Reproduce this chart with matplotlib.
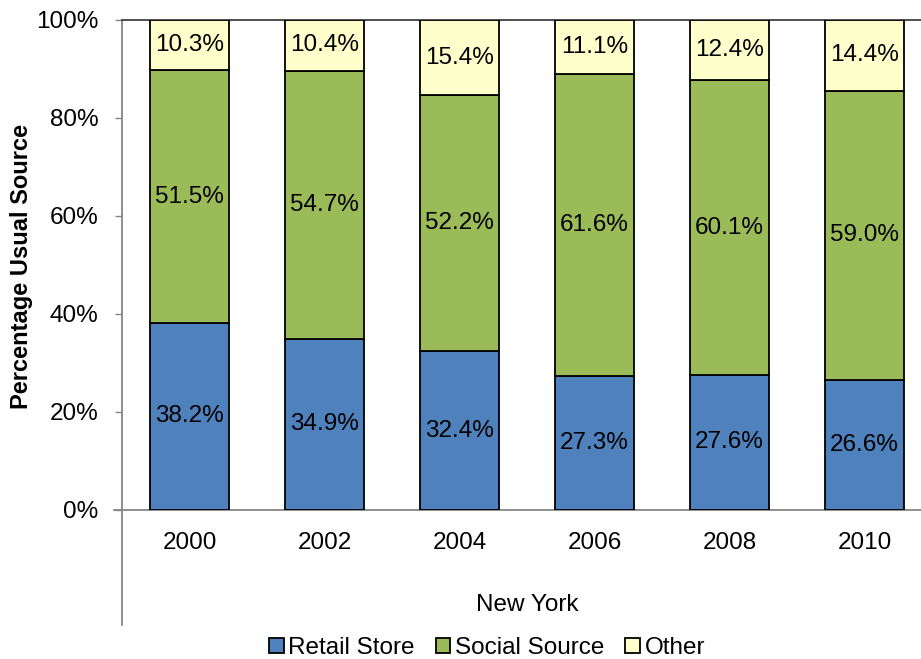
import matplotlib
matplotlib.use("Agg")
import matplotlib.pyplot as plt
from matplotlib.lines import Line2D
import numpy as np

plt.rcParams['font.family'] = ['Liberation Sans', 'DejaVu Sans']

years = ['2000', '2002', '2004', '2006', '2008', '2010']
retail = [38.2, 34.9, 32.4, 27.3, 27.6, 26.6]
social = [51.5, 54.7, 52.2, 61.6, 60.1, 59.0]
other = [10.3, 10.4, 15.4, 11.1, 12.4, 14.4]
series_names = ['Retail Store', 'Social Source', 'Other']
colors = ['#4F81BD', '#9BBB59', '#FFFFCC']
group_label = 'New York'
ylabel = 'Percentage Usual Source'

FS = 17.5
W, H = 921, 659
fig = plt.figure(figsize=(W / 100, H / 100), dpi=100)
ax_left, ax_right, ax_top, ax_bot = 122, 932, 20, 510
ax = fig.add_axes([ax_left / W, 1 - ax_bot / H, (ax_right - ax_left) / W, (ax_bot - ax_top) / H])

x = np.arange(len(years))
bw = 0.59
bottom = np.zeros(len(years))
for vals, name, c in zip([retail, social, other], series_names, colors):
    vals = np.array(vals)
    ax.bar(x, vals, bw, bottom=bottom, color=c, edgecolor='black', linewidth=1.3, label=name, zorder=3)
    for xi, b, v in zip(x, bottom, vals):
        ax.text(xi, b + v / 2, f'{v:.1f}%', ha='center', va='center', fontsize=FS, color='black', zorder=4)
    bottom = bottom + vals

ax.set_xlim(-0.5, len(years) - 0.5)
ax.set_ylim(0, 100)
ax.set_yticks([0, 20, 40, 60, 80, 100])
ax.set_yticklabels(['0%', '20%', '40%', '60%', '80%', '100%'])
ax.set_xticks(x)
ax.set_xticklabels(years)
ax.tick_params(axis='y', length=5, width=1, color='#868686', pad=12, labelsize=FS)
ax.tick_params(axis='x', length=0, pad=16, labelsize=FS)

ax.spines['right'].set_visible(False)
ax.spines['top'].set_color('#404040')
ax.spines['top'].set_linewidth(1.3)
for s in ['left', 'bottom']:
    ax.spines[s].set_color('#868686')
    ax.spines[s].set_linewidth(1.3)

# extended category axis lines
fig.add_artist(Line2D([ax_left / W, ax_left / W], [1 - ax_bot / H, 1 - 625 / H], transform=fig.transFigure,
                      color='#868686', linewidth=1.3))
fig.add_artist(Line2D([114 / W, ax_left / W], [1 - ax_bot / H, 1 - ax_bot / H], transform=fig.transFigure,
                      color='#868686', linewidth=1.3))

fig.text(527 / W, 1 - 605 / H, group_label, ha='center', va='center', fontsize=FS)
fig.text(22 / W, 1 - 266 / H, ylabel, ha='center', va='center', rotation=90, fontsize=17, fontweight='bold')

fig.legend(loc='center', bbox_to_anchor=(487 / W, 1 - 648 / H), ncol=3, frameon=False, fontsize=FS,
           handlelength=0.6, handleheight=0.6, handletextpad=0.2, columnspacing=0.85, borderaxespad=0)

fig.savefig('out.png', dpi=100)
